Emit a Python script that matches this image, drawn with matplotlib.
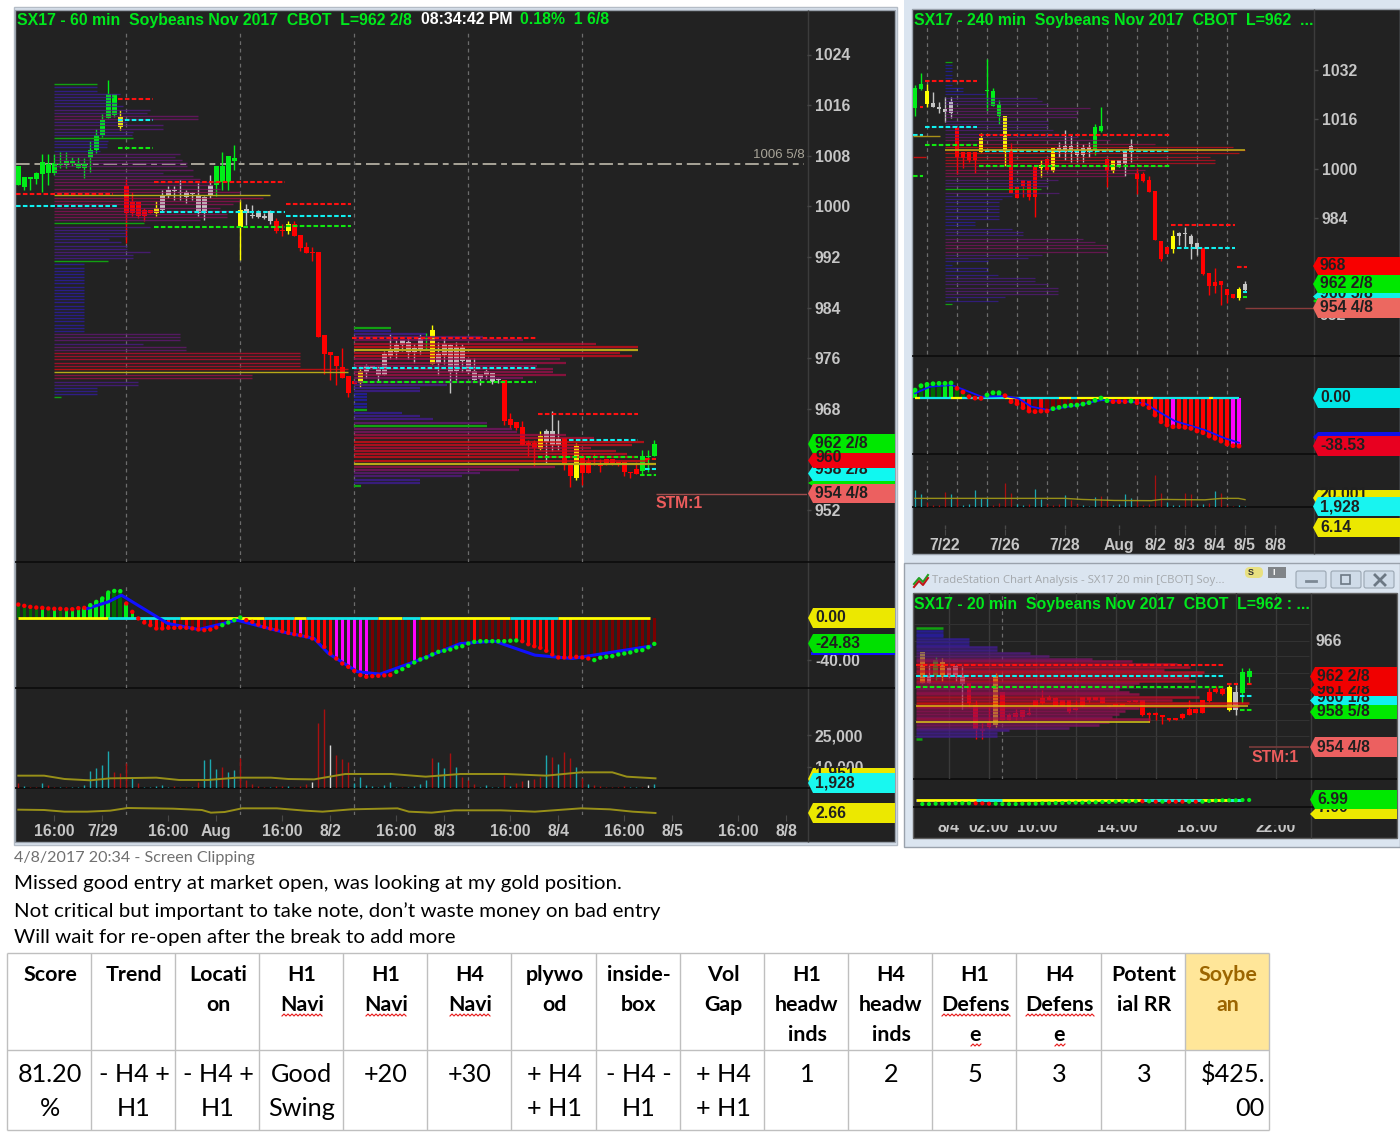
import numpy as np
import matplotlib
matplotlib.use('Agg')
import matplotlib.pyplot as plt
from matplotlib.colors import LinearSegmentedColormap
from matplotlib.patches import Polygon, Rectangle, FancyBboxPatch

W, H = 1400, 1135
COL = {'g': '#00ee18', 'r': '#ff0000', 'y': '#ffff00', 'w': '#c4c4c4', 'c': '#1cb0b4',
       'D': '#006a00', 'd': '#7a0000', 'm': '#ff00ff'}
BG = '#222222'
CHROME = '#dbe5f0'
UI = 'Liberation Sans'
DOC = 'Lato'

# 60 min chart
main_top = [1006.4, 1004.6, 1004.6, 1005.2, 1007, 1006.7, 1006.8, 1006.8, 1007.1, 1007.1, 1006.8, 1006.8, 1008.9,
            1011.3, 1013.7, 1017.7, 1017.7, 1014.1, 1003.2, 1000.7, 1000.7, 999.4, 999.4, 999.7, 1001.8, 1002.6,
            1002.6, 1002.3, 1002.3, 1002.1, 1001.6, 1001.4, 1003.4, 1006.3, 1006.3, 1007.9, 1007.7, 999.4, 999.5,
            998.7, 998.9, 998.4, 999.2, 997.7, 996.3, 997.2, 997.2, 995.5, 993.5, 992.8, 992.7, 979.6, 976.9, 976.4,
            974.6, 973.2, 972.4, 973.9, 974.7, 974.7, 974.2, 976.7, 977.2, 978, 978.8, 978.6, 977.6, 979.2, 979.2,
            980.4, 976.7, 978.2, 978, 977.8, 977.8, 975.9, 974, 973.5, 973.9, 973.6, 972.7, 972.6, 966.4, 965.9,
            965.1, 962.5, 962.5, 963.7, 964.4, 964.4, 963.2, 963.4, 959.3, 962.1, 960.6, 959.6, 959.4, 959.1, 960.1,
            960.1, 959.5, 959.5, 958, 958.4, 960.6, 960.6, 962.4]
main_bot = [1003.4, 1003, 1004.3, 1004.3, 1005.1, 1005.2, 1005.3, 1006.6, 1006.9, 1006.8, 1006.1, 1006.1, 1007.6,
            1008.9, 1011.3, 1013.9, 1014.4, 1012.5, 998.9, 999, 998.5, 998.5, 998.9, 998.9, 999.4, 1001.6, 1002.4,
            1002.1, 1001.4, 1001.9, 999, 999, 1001.6, 1003.4, 1003.8, 1003.8, 1007.2, 996.8, 998.9, 998.5, 998.3,
            998.1, 997.6, 996.1, 996.1, 996.1, 995.3, 993.4, 992.6, 992.6, 979.3, 976.6, 976.5, 974.8, 972.8, 970.5,
            971.9, 972, 973.8, 974.5, 973.4, 973.4, 976.3, 977, 978, 976.9, 976.9, 977.5, 979, 975, 975.2, 976.5,
            973.8, 974, 975.5, 973.8, 972.6, 972.7, 973.4, 972.2, 972.5, 966, 965.5, 965, 962.2, 962.2, 961.8, 961.7,
            962.7, 962.2, 962.2, 959.3, 957.3, 957.1, 957.8, 957.8, 959.1, 958.9, 959.1, 959.3, 959.1, 958, 957.8,
            957.7, 958.2, 960.3, 960.5]
main_high = [1006.4, 1004.6, 1004.6, 1005.5, 1008.2, 1008.2, 1008.2, 1008.6, 1008.6, 1007.8, 1007.8, 1007.6, 1010.3,
             1012.3, 1014.6, 1019.9, 1017.7, 1015.2, 1004.3, 1002.2, 1000.7, 999.7, 999.4, 1000.9, 1002.6, 1003.2,
             1003.2, 1004.2, 1002.6, 1002.3, 1003.7, 1001.6, 1005, 1006.3, 1008.6, 1007.9, 1009.7, 1001, 1000.4,
             1000.2, 999.4, 998.9, 999.4, 998.1, 997.2, 997.6, 997.7, 995.5, 994.4, 993.5, 992.7, 979.6, 976.9,
             976.4, 977.6, 973.2, 972.4, 974.8, 975.1, 974.7, 974.8, 977.2, 979.8, 978.8, 978.8, 979.2, 978.3, 979.8,
             980, 981.2, 978.5, 979.3, 978.3, 978.5, 978.3, 975.9, 976, 973.5, 974.3, 973.6, 972.9, 972.6, 967.3,
             965.9, 966, 963.1, 963, 964.4, 964.8, 967.6, 966.2, 963.4, 959.3, 962.6, 960.9, 960.3, 961, 960, 960.1,
             960.1, 959.5, 959.5, 958, 959.5, 961.4, 961.4, 963.1]
main_low = [1003.4, 1002.6, 1002.5, 1003.6, 1002.3, 1003.4, 1005, 1006, 1006.1, 1006.4, 1006.1, 1004.5, 1005.4, 1008.4,
            1011, 1013.9, 1014.1, 1012, 994.2, 998.4, 998.1, 997.6, 998.9, 998.5, 999.3, 1001.3, 1001, 1001, 1000.5,
            1001, 998.5, 997.9, 1001.3, 1001.6, 1002.6, 1002.6, 1005.8, 991.5, 997.1, 998.1, 998.1, 998, 997.2,
            995.8, 995.3, 995.6, 995.3, 993, 992.6, 991.4, 979.3, 973.5, 972.5, 971.7, 972.8, 969.9, 971.9, 971.4,
            972.9, 974.5, 972.2, 973.4, 975.9, 975.9, 977.2, 975.9, 975.2, 976.7, 977.5, 975, 973.3, 975.1, 970.5,
            972.5, 973.8, 973.5, 972.6, 971.8, 972.7, 971.9, 972, 965.5, 965, 964.6, 962.2, 960.5, 958.9, 961.4,
            959.3, 961.3, 961.4, 958.3, 955.6, 956.7, 956, 957.8, 959.1, 958, 959.1, 959.1, 958.9, 957.3, 957.1,
            957.7, 957.7, 958, 960.5]
main_col = 'g' * 17 + 'y' + 'r' * 5 + 'y' + 'w' * 9 + 'g' * 4 + 'y' + 'w' * 5 + 'rr' + 'y' + 'r' * 11 + 'y' + \
           'w' * 10 + 'g' + 'y' + 'w' * 11 + 'r' * 6 + 'y' + 'w' * 3 + 'rr' + 'y' + 'r' * 10 + 'ggg'

main_prof = [43, 43, 43, 66, 59, 56, 63, 69, 96, 93, 144, 144, 73, 109, 109, 79, 78, 79, 54, 53, 53, 46, 126, 121, 128,
             133, 133, 139, 109, 139, 146, 163, 159, 166, 186, 216, 209, 186, 179, 166, 176, 173, 173, 146, 90, 96,
             73, 72, 73, 55, 67, 73, 73, 96, 79, 79, 54, 30, 30, 30, 30, 30, 30, 30, 30, 30, 30, 30, 30, 30, 30, 30,
             30, 30, 30, 30, 30, 30, 30, 126, 126, 126, 89, 132, 132, 246, 246, 246, 246, 246, 294, 294, 198, 198,
             84, 84, 43, 43, 43, 7]
main_prof2 = [37, 37, 72, 129, 169, 242, 284, 284, 266, 278, 206, 212, 183, 199, 199, 212, 169, 129, 93, 66, 66, 13,
              13, 13, 13, 13, 13, 48, 66, 79, 133, 133, 158, 163, 212, 240, 290, 278, 237, 262, 273, 284, 294, 302,
              201, 165, 126, 108, 66, 66, 7]
main_lv_x0 = [16.6, 16.6, 16.6, -0.4, -0.4, 22.6, 23.6, 22.6, 44.6, 44.6, 44.6, 55.6, 55.6, 57.4, 86.6, 91.7, 86.6,
              104.5, 104.5, 103.6]
main_lv_x1 = [22.4, 22.4, 22.4, 15.8, 16.4, 44.4, 44.4, 44.4, 55.4, 55.4, 55.4, 86.3, 86.3, 86.3, 103.3, 103.3, 103.3,
              106.3, 106.3, 106.3]
main_lv_p = [1016.9, 1013.7, 1009.2, 1002, 1000.1, 1003.8, 999.1, 996.7, 1000.4, 998.4, 996.9, 979.2, 974.5, 972.2,
             967.2, 963, 960.3, 960.1, 958.4, 957.5]
main_lv_c = 'rcgrcrcgrcgrcgrcgrcg'

main_hist = [12.2, 11, 10, 9.4, 9.1, 8.5, 8.2, 8.2, 7.8, 7.8,
             8.8, 9.1, 11.6, 14.7, 17.9, 23.5, 25, 24.8, 13.2, 5.3,
             -.9, -4.7, -7.2, -10.3, -10.3, -9.7, -9.7, -9.4, -9.7, -10.3,
             -11.3, -11.9, -11.3, -9.4, -7.2, -4.7, -2.5, 0, -2.5, -4.1,
             -6.6, -8.8, -10.3, -11.3, -12.9, -14.4, -15.7, -16.6, -17.6, -19.7,
             -22.3, -27.6, -33.9, -38.6, -43.3, -46.4, -50.2, -54.2, -55.8, -55.2,
             -54.9, -54.5, -54.2, -51.1, -48.6, -45.5, -42.3, -39.5, -37.6, -34.8,
             -32.3, -31.3, -30.1, -28.2, -27, -24.5, -22.9, -22.3, -22.3, -22.3,
             -22.3, -22.3, -21.9, -21.6, -22.3, -25.1, -27, -28.5, -31.3, -34.8,
             -37.6, -37.6, -37.3, -37, -37.6, -38.6, -40.1, -37.9, -37, -36.4,
             -34.8, -33.9, -32.9, -31.3, -30.7, -28, -24.8]
main_hist_col = 'DDDDgDgDgg' + 'ggggggDDgg' + 'rrrrrrrdrd' + 'rddddrrrrr' + 'rrrrrrrmrr' + 'rrrmmmmmmd' + \
                'ddddddmddd' + 'ddddddrddd' + 'dddrrrrrrr' + 'drrddddddd' + 'ddddddd'
main_dot_col = 'r' * 12 + 'g' * 6 + 'r' * 16 + 'g' * 4 + 'r' * 25 + 'g' * 21 + 'r' * 12 + 'g' * 11
main_sig_x = [11.5, 15, 17.2, 24.9, 30.1, 36.4, 44, 49.3, 51.7, 56.5, 60.3, 66, 73.7, 79.4, 86.1, 92.3, 105.3]
main_sig = [8.5, 14.7, 21, -5.6, -11.3, -2.5, -13.5, -19.7, -33.9, -51, -53.3, -41.7, -24.5, -22.3, -35.4, -38.6, -27]
main_zero_edges = [0, 15, 27, 41, 46, 48, 60, 64, 67, 82, 90, 105.3]
main_zero_col = 'ycycycycycy'

main_vol = [2200, 950, 630, 630, 2200, 1260, 630, 630, 630, 630,
            630, 1400, 8200, 9300, 11000, 17500, 7700, 7000, 12000, 5000,
            2200, 630, 300, 950, 1260, 630, 950, 630, 630, 630,
            3000, 13300, 13700, 9000, 9800, 7400, 8500, 14000, 3800, 1900,
            950, 630, 630, 950, 950, 950, 630, 950, 1900, 3000,
            31000, 37600, 20400, 15600, 13700, 12500, 2200, 5200, 1400, 950,
            300, 1400, 2700, 630, 630, 630, 950, 1900, 3800, 14000,
            12500, 9600, 16400, 10100, 5400, 3800, 1900, 630, 1400, 630,
            630, 6200, 950, 2200, 3200, 3800, 4300, 5400, 15600, 14900,
            11400, 16900, 14000, 9800, 4600, 1900, 1400, 950, 630, 630,
            630, 950, 630, 630, 630, 1600, 1900]
main_vol_col = 'rcrrcrrcrc' + 'ccccccrrrc' + 'rcccccrrrc' + 'rcccrccrrr' + 'rrcrrcrrrw' + 'rrwrrrcccc' + \
               'ccccrccccr' + 'ccrcrrrccc' + 'crcrrwrrcr' + 'crrcrcrrrr' + 'rrccrwc'
main_ma_x = [0, 4.3, 7.7, 12, 15.3, 23, 26.8, 31.6, 36.4, 42.1, 45, 49.3, 54.5, 62.2, 67.9, 73.7, 81.3, 88, 93.8, 99,
             101.4, 106.2]
main_ma = [5850, 5850, 4270, 3630, 4580, 4900, 3800, 3800, 4900, 4900, 4270, 4100, 6640, 6640, 5370, 6640, 6640, 5850,
           7430, 7430, 5370, 4580]
main_ratio_x = [0, 4.3, 7.7, 11.5, 15.3, 18.2, 25.8, 30.6, 32.1, 34.4, 37.3, 43.1, 47.8, 50.7, 55.5, 63.2, 65.1, 68.9,
                72.7, 80.4, 86.1, 93.8, 98.6, 102.4, 106.2]
main_ratio = [3.16, 3.11, 2.86, 2.86, 3.01, 3.41, 3.31, 3.11, 2.71, 2.81, 3.36, 3.36, 3.01, 2.86, 3.21, 3.36, 2.86,
              2.71, 3.06, 3.06, 2.86, 3.36, 3.21, 2.86, 2.66]
main_days = [18, 37, 56, 75, 94]
main_xticks = [6, 14, 25, 33, 44, 52, 63, 71, 82, 90, 101, 109, 120, 128]
main_xlabels = ['16:00', '7/29', '16:00', 'Aug', '16:00', '8/2', '16:00', '8/3', '16:00', '8/4', '16:00', '8/5', '16:00',
                '8/8']
main_prices = [952, 968, 976, 984, 992, 1000, 1008, 1016, 1024]

# 240 min chart
h4_top = [1026.1, 1027.6, 1025.3, 1021.2, 1020.1, 1019.5, 1021.7, 1013.6, 1005.4, 1005.4, 1005.4, 1009.8, 1025.5,
          1025.3, 1021, 1017, 1005.8, 994.2, 996.3, 996, 1000.6, 1001.2, 1003, 1006.6, 1006.6, 1007.4, 1007.4, 1006.1,
          1006.6, 1007, 1013.6, 1013.9, 1003, 1002.7, 1002.7, 1006.1, 1007.4, 998.6, 998.2, 996.2, 992.7, 976.5, 974.6,
          978.2, 979.2, 979.2, 978.2, 976, 974.2, 966.1, 963.2, 963.6, 960.9, 959.5, 960.9, 962.6]
h4_bot = [1019.6, 1025.7, 1021, 1020.1, 1019.2, 1018.4, 1017.9, 1003.9, 1003.6, 1002.8, 1002.8, 1005.5, 1025.2, 1020.4,
          1017.2, 1005.4, 992.2, 990.6, 994.4, 990.9, 990.9, 1000.1, 999.6, 999.2, 1005.5, 1005.5, 1005.5, 1004.4,
          1004.4, 1005.5, 1006.1, 1012.3, 999.4, 999.2, 1001, 1001.4, 1005.5, 996.8, 996, 992.5, 976.9, 970.7, 972.4,
          973.9, 978.2, 978.7, 975.7, 973.8, 965.7, 962.1, 962.1, 962.3, 959, 958.2, 957.9, 960.6]
h4_high = [1027.1, 1031.1, 1027.4, 1025, 1021.7, 1023.4, 1023.4, 1013.6, 1005.4, 1005.4, 1005.4, 1011.5, 1035.6, 1026.1,
           1022.3, 1017, 1008.2, 994.2, 996.3, 996, 1000.6, 1002.8, 1003, 1006.6, 1008.8, 1012.5, 1010.9, 1008.8, 1008,
           1008.8, 1014.5, 1019.9, 1003, 1002.7, 1002.7, 1006.3, 1009.5, 1000.1, 999, 997.7, 992.7, 976.5, 974.6, 980.1,
           979.6, 981.2, 978.7, 976.3, 974.2, 966.1, 967.7, 963.6, 960.9, 959.5, 961.7, 963.4]
h4_low = [1017.2, 1025.5, 1020.1, 1019.9, 1017.9, 1015.2, 1016.5, 998.2, 1000.3, 1002.3, 998.7, 1005.5, 1018.8, 1020.4,
          1014.5, 1000.9, 992.2, 990.4, 990.9, 989.8, 984.4, 997.2, 999.4, 999, 1003.9, 1002.8, 1002.3, 1002.1, 1002.1,
          1003.9, 1004.4, 1011.8, 994.2, 998.5, 1000.6, 997.7, 1002.3, 991.7, 995.8, 992.5, 976.9, 970.2, 972.2, 972.5,
          975.2, 974.2, 970.7, 972, 965.5, 959, 959.6, 955.8, 956.3, 957.9, 957.4, 960.4]
h4_col = 'ggywwww' + 'rrrr' + 'y' + 'ggg' + 'y' + 'rrrrr' + 'y' + 'r' + 'y' + 'wwwwww' + 'gg' + 'r' + 'y' + 'www' + \
         'rrrrrr' + 'y' + 'wwww' + 'rrrrrr' + 'y' + 'w'
h4_prof = [7, 7, 7, 7, 7, 7, 7, 7, 18, 18, 40, 92, 97, 103, 145, 133, 133, 132, 103, 103, 103, 108, 113, 133, 165, 210,
           288, 300, 294, 265, 270, 270, 220, 200, 193, 180, 113, 103, 103, 96, 114, 67, 57, 54, 54, 54, 54, 54, 54,
           30, 30, 67, 78, 78, 138, 150, 162, 162, 162, 97, 83, 43, 7, 43, 43, 53, 90, 90, 103, 113, 113, 113, 60, 53,
           7]
h4_lv_x0 = [1.7, 1.7, 1.7, 10.7, 11.7, 10.7, 42.7, 43.6, 53.7, 54.6, 54.6, -.3, -.3, .8]
h4_lv_x1 = [10.4, 10.4, 10.4, 42.5, 42.5, 42.5, 53.4, 53.4, 55.4, 55.4, 55.4, 1.4, 1.4, 1.4]
h4_lv_p = [1028.4, 1013.5, 1007.6, 1011, 1005.8, 1001, 981.8, 974.2, 968.2, 960.1, 958.3, 1010.9, 997.6, 1020.1]
h4_lv_c = 'rcgrcgrcrcgcgr'
h4_hist = [6.1, 9.6, 10.7, 11.2, 11.5, 11.5, 11.8, 7.5, 4.5, .8, -.3, -.5, 2.1, 4, 4, 1.6, -3.2, -4.8, -8, -10.7, -11.2,
           -10.7, -10.7, -8.8, -7.8, -6.7, -6.1, -5.9, -5.1, -4, -2.1, -.3, -2.4, -3.2, -3.2, -3.2, -2.7, -4, -5.3, -8,
           -13.9, -19.3, -21.9, -23.3, -23.3, -23.8, -24.6, -26.7, -28.1, -30.7, -32.6, -34.8, -37.2, -38.5, -38.8]
h4_hist_col = 'gDgDDgg' + 'DDrrr' + 'gDg' + 'rrrrrdrd' + 'ddddddddd' + 'ddddd' + 'rrrrrr' + 'm' + 'rrrrrrrrr' + 'mm'
h4_dot_col = 'g' * 7 + 'r' * 5 + 'g' * 3 + 'r' * 8 + 'g' * 10 + 'r' * 3 + 'g' + 'r' * 18
h4_sig_x = [0, 2.5, 6.1, 8.3, 11.1, 15, 17.2, 19.4, 22.2, 27.2, 31.1, 34.4, 38.3, 40.6, 43.3, 48.3, 51.7, 54]
h4_sig = [3.5, 8.8, 10.2, 6.1, .8, 1.3, -.5, -7.2, -9.9, -5.9, -1.9, -2.7, -4.5, -11.2, -18.7, -25.9, -32.6, -36.1]
h4_zero_edges = [0, .8, 6, 7.8, 15, 17, 24, 26, 27, 39.7, 49, 49.7, 54]
h4_zero_col = 'ycycycycycyc'
h4_vol = [8000, 5900, 2400, 800, 800, 6900, 6100, 4000, 800, 1100, 8000, 4000, 4300, 800, 1900, 11200, 6400, 1100, 800,
          1100, 8500, 3700, 1100, 800, 1100, 5600, 3200, 1100, 800, 500, 4800, 5300, 3200, 800, 1100, 6100, 4000, 3200,
          800, 1100, 15200, 6600, 2100, 800, 800, 6400, 5900, 800, 1100, 1900, 7500, 6700, 800, 500, 800, 500]
h4_vol_col = 'ccrrrrcrcc' + 'cccrrrrccr' + 'ccrrrcrrcc' + 'crrccccrrr' + 'rrccc' + 'rrccrcrrrcc'
h4_ma_x = [0, 25, 27.8, 33.2, 39.4, 41.1, 48.3, 51.1, 53.9, 55]
h4_ma = [4000, 4000, 3500, 3000, 2900, 3500, 3300, 4000, 4000, 3400]
h4_days = [2, 7, 12, 17, 22, 27, 32, 37, 42, 47, 52]
h4_xticks = [5, 15, 25, 34, 40, 45, 50, 55, 60]
h4_xlabels = ['7/22', '7/26', '7/28', 'Aug', '8/2', '8/3', '8/4', '8/5', '8/8']
h4_prices = [984, 1000, 1016, 1032]

# 20 min chart
m20_top = [964.9, 962.3, 964, 963.8, 963.1, 963.3, 962.3, 961.4, 959, 956.4, 957.1, 962.3, 960.5, 957.9, 958.1, 958.5,
           958.1, 959.6, 959.8, 959.9, 959.8, 959.6, 959.6, 958.6, 959.9, 959.9, 959.9, 959.9, 959, 959.1, 959, 959.5,
           959.5, 959.6, 958.1, 958.1, 957.9, 957.6, 957.6, 958, 958.6, 958.6, 959.6, 960.4, 960.8, 960.8, 961, 960.5,
           962.7, 962.8]
m20_bot = [961.5, 961.5, 962.3, 962.1, 962.1, 962.1, 961.3, 959.2, 956.4, 956.1, 956.6, 956.8, 957.4, 957.4, 957.7,
           957.7, 957.9, 958.9, 959.2, 959.6, 958.9, 958.9, 958.2, 958.5, 958.9, 959.6, 959.6, 959.2, 958.8, 958.9,
           958.9, 959.3, 959.4, 957.9, 957.9, 957.9, 957.7, 957.4, 957.4, 957.6, 957.9, 958.1, 958.1, 959.5, 960.4,
           960.2, 958.5, 958.5, 960.3, 962.1]
m20_high = [964.9, 963.4, 964.3, 964.2, 963.2, 963.4, 963.3, 961.4, 959.6, 957, 958.8, 962.5, 960.5, 958.1, 958.6,
            958.5, 958.8, 959.6, 960.7, 960.1, 959.9, 959.6, 959.6, 959.6, 959.9, 959.9, 959.9, 959.9, 959, 959.1, 959,
            959.5, 959.5, 959.6, 958.2, 958.3, 957.9, 957.6, 957.6, 958.1, 959.6, 958.6, 959.6, 960.9, 961.1, 961.1,
            961.2, 961.2, 963.1, 963.1]
m20_low = [961.5, 961.4, 961.8, 961.7, 962, 961.7, 958.6, 958.8, 955.3, 955.3, 956.4, 956.6, 957.4, 957.4, 957.4, 957.5,
           957.9, 958.9, 959.1, 959.6, 958.9, 958.9, 958.1, 958.5, 958.8, 959.4, 959.6, 959.2, 958.8, 958.9, 958.9,
           959.3, 959.4, 957.8, 957.2, 957.4, 956.9, 957.3, 957.4, 957.5, 957.9, 958.1, 958.1, 959.4, 960.3, 960.1,
           958.4, 957.9, 959.2, 961.4]
m20_col = 'ywgywwwrrrryr' + 'r' * 33 + 'ywgg'
m20_prof = [27, 27, 27, 27, 53, 53, 53, 81, 81, 114, 133, 176, 216, 261, 274, 248, 288, 286, 273, 279, 223, 218, 203,
            213, 223, 283, 256, 333, 323, 223, 209, 203, 196, 234, 193, 183, 153, 93, 81, 81, 6]
m20_lv_x0 = [-1, -1, -1, 45.7, 48.7, 47.7, 47.7]
m20_lv_x1 = [45.4, 45.4, 45.4, 47.4, 49.4, 49.4, 49.4]
m20_lv_p = [963.4, 962.2, 961, 961.3, 961.3, 960, 958.5]
m20_lv_c = 'rcgrrcg'
m20_osc = [.99, .99, 1.49, 1.49, 1.49, 1.99, 1.99, 1.99, 1.99, 1.99, 1.49, 1.49, .99, .99, .99, 1.49, 1.49, 1.49, 1.99,
           1.99, 2.49, 2.49, 2.99, 2.99, 2.99, 3.49, 3.49, 3.99, 3.99, 4.49, 4.49, 4.99, 4.99, 4.99, 4.99, 4.49, 4.49,
           4.49, 4.49, 4.49, 4.49, 4.49, 4.49, 5.49, 5.99, 6.49, 6.49, 6.49, 6.99, 6.99]
m20_osc_col = 'g' * 8 + 'rrr' + 'g' * 22 + 'rgrgrrrgr' + 'g' * 8
m20_grid = [4, 10, 17, 23, 29, 35, 41, 47, 53]
m20_xticks = [4, 10, 17.2, 29.2, 41.2, 53]
m20_xlabels = ['8/4', '02:00', '10:00', '14:00', '18:00', '22:00']

# note and table
note_lines = ['Missed good entry at market open, was looking at my gold position.',
              'Not critical but important to take note, don\u2019t waste money on bad entry',
              'Will wait for re-open after the break to add more']
table_edges = [7, 91, 175, 259, 343, 427, 511, 596, 680, 764, 848, 932, 1016, 1101, 1185, 1269]
table_head = [['Score'], ['Trend'], ['Locati', 'on'], ['H1', 'Navi'], ['H1', 'Navi'], ['H4', 'Navi'], ['plywo', 'od'],
              ['inside-', 'box'], ['Vol', 'Gap'], ['H1', 'headw', 'inds'], ['H4', 'headw', 'inds'],
              ['H1', 'Defens', 'e'], ['H4', 'Defens', 'e'], ['Potent', 'ial RR'], ['Soybe', 'an']]
table_body = [['81.20', '%'], ['- H4 +', 'H1'], ['- H4 +', 'H1'], ['Good', 'Swing'], ['+20'], ['+30'], ['+ H4', '+ H1'],
              ['- H4 -', 'H1'], ['+ H4', '+ H1'], ['1'], ['2'], ['5'], ['3'], ['3'], ['$425.', '00']]

plt.rcParams['font.family'] = [UI, 'DejaVu Sans']
fig = plt.figure(figsize=(W / 100, H / 100), dpi=100, facecolor='white')
prof_cmap = LinearSegmentedColormap.from_list('prof', ['#1c1cb4', '#3c1c98', '#5c1a78', '#8c1058', '#b80c30', '#e00c10'])


def pixel_axes(z):
    ax = fig.add_axes([0, 0, 1, 1], zorder=z)
    ax.set_xlim(0, W)
    ax.set_ylim(H, 0)
    ax.axis('off')
    ax.patch.set_alpha(0)
    return ax


def pane(x0, x1, y0, y1, bar0, dx, y_ref, v_ref, px_per_unit):
    ax = fig.add_axes([x0 / W, 1 - y1 / H, (x1 - x0) / W, (y1 - y0) / H], zorder=2)
    ax.set_xlim((x0 - bar0) / dx, (x1 - bar0) / dx)
    ax.set_ylim(v_ref - (y1 - y_ref) / px_per_unit, v_ref + (y_ref - y0) / px_per_unit)
    ax.patch.set_alpha(0)
    for s in ax.spines.values():
        s.set_visible(False)
    ax.set_xticks([])
    ax.set_yticks([])
    return ax


def right_ticks(ax, vals, labels):
    ax.yaxis.tick_right()
    ax.set_yticks(vals)
    ax.set_yticklabels(labels, fontsize=11.3, fontweight='bold', color='#c6c6c6')
    ax.tick_params(axis='y', length=3, color='#484848', width=1, pad=2.7)


def candles(ax, top, bot, high, low, cols, width, lw=1):
    x = np.arange(len(top))
    top, bot = np.array(top), np.array(bot)
    for c in set(cols):
        m = np.array([k == c for k in cols])
        ax.vlines(x[m], np.array(low)[m], np.array(high)[m], color=COL[c], lw=lw, zorder=3)
        ax.bar(x[m], np.maximum(top[m] - bot[m], 0.18), bottom=bot[m], width=width, color=COL[c], linewidth=0, zorder=3)


def profile(ax, start, bar_px, prices, widths, green, yellow, lw, alpha=0.72):
    widths = np.array(widths, float)
    for k, (p, w) in enumerate(zip(prices, widths)):
        c = prof_cmap(w / widths.max())
        a = alpha
        if k in green:
            c, a = '#12a012', 1
        if k in yellow:
            c, a = '#b8a818', 1
        ax.hlines(p, start, start + w / bar_px, color=c, alpha=a, lw=lw, zorder=4)


def levels(ax, x0, x1, prices, cols, lw=1.5):
    for a, b, p, c in zip(x0, x1, prices, cols):
        ax.hlines(p, a, b, color={'r': '#ff1010', 'c': '#10f0f0', 'g': '#10e810'}[c], lw=lw, linestyles=(0, (2.2, 1.1)),
                  zorder=5)


def histogram(ax, vals, cols, dot_cols, bright=0.6, dark=0.6, s=10):
    x = np.arange(len(vals))
    vals = np.array(vals)
    for c in set(cols):
        m = np.array([k == c for k in cols])
        ax.bar(x[m], vals[m], width=dark if c in 'Dd' else bright, color=COL[c], linewidth=0, zorder=2)
    dc = [COL[k] for k in dot_cols]
    ax.scatter(x, vals, s=s, c=dc, linewidths=0, zorder=5)


def zero_line(ax, edges, cols, lw=2):
    for a, b, c in zip(edges[:-1], edges[1:], cols):
        ax.hlines(0, a, b, color={'y': '#ffff00', 'c': '#10e8e8'}[c], lw=lw, zorder=3)


def volume(ax, vols, cols, lw=1):
    x = np.arange(len(vols))
    ax.vlines(x, 0, vols, color=[{'r': '#a81010', 'c': '#1ca8b0', 'w': '#d8d8d8'}[k] for k in cols], lw=lw, zorder=2)


def day_lines(ax, days, lo, hi):
    ax.vlines(days, lo, hi, color='#6c6c6c', lw=0.9, linestyles=(0, (3, 3)), zorder=1)


def tag(ax, x0, x1, y0, y1, color, text, z, text_y=None, size=11.3):
    mid = (y0 + y1) / 2
    ax.add_patch(Polygon([(x0, mid), (x0 + 5, y0), (x1, y0), (x1, y1), (x0 + 5, y1)], closed=True, fc=color, ec='none',
                         zorder=z))
    if text:
        ax.text(x0 + 7, mid if text_y is None else text_y, text, color='#202020', fontsize=size, fontweight='bold',
                va='center', ha='left', zorder=z + 0.1)


bg = pixel_axes(0)
top = pixel_axes(6)

# window chrome and dark panels
bg.add_patch(Rectangle((904, 0), 496, 847, fc=CHROME, ec='none'))
bg.add_patch(Rectangle((14, 7), 883, 838, fc=CHROME, ec='#b4bcc6', lw=1))
bg.add_patch(Rectangle((15, 10), 880, 832, fc=BG, ec='#9aa2ac', lw=1))
bg.add_patch(Rectangle((912, 9), 488, 545, fc=BG, ec='#9aa2ac', lw=1))
bg.add_patch(Rectangle((904, 563), 496, 284, fc=CHROME, ec='#9aa2ac', lw=1))
bg.add_patch(Rectangle((913, 593), 484, 245, fc=BG, ec='#606060', lw=1))
bg.vlines([807.5], 10, 842, color='#3c3c3c', lw=1)
bg.vlines([1314], 9, 554, color='#3c3c3c', lw=1)
bg.vlines([1310.5], 593, 838, color='#3c3c3c', lw=1)
bg.hlines([562, 688, 788], 15, 895, color='#0c0c0c', lw=1.2)
bg.hlines([356, 454, 507], 912, 1400, color='#0c0c0c', lw=1.2)
bg.hlines([779, 806.5], 913, 1397, color='#0c0c0c', lw=1.2)

# --- 60 min ---
main_x = (16, 807, 18.3, 6)
ax = pane(main_x[0], main_x[1], 10, 562, main_x[2], main_x[3], 54.5, 1024, 6.325)
candles(ax, main_top, main_bot, main_high, main_low, main_col, 0.78)
profile(ax, 5.95, 6, np.linspace(1019.3, 969.8, len(main_prof)), main_prof, [0, 17, 44, 56, 99], [35, 91], 1.0, 0.78)
profile(ax, 55.95, 6, np.linspace(980.8, 955.8, len(main_prof2)), main_prof2, [0, 26, 31, 50], [7, 43], 1.6, 0.78)
levels(ax, main_lv_x0, main_lv_x1, main_lv_p, main_lv_c)
day_lines(ax, main_days, 943.8, 1027.5)
ax.hlines(1006.625, -0.4, 131, color='#a8a498', lw=1.4, linestyles=(0, (7, 2.5, 3, 2.5)), zorder=1)
ax.hlines(954.5, 106.3, 132, color='#a04c4c', lw=1, zorder=2)
right_ticks(ax, main_prices, [str(p) for p in main_prices])

ax = pane(main_x[0], main_x[1], 562, 688, main_x[2], main_x[3], 617.5, 0, 1.0625)
histogram(ax, main_hist, main_hist_col, main_dot_col)
day_lines(ax, main_days, -66, 30)
zero_line(ax, main_zero_edges, main_zero_col)
ax.plot(main_sig_x, main_sig, color='#1010ff', lw=2.2, zorder=4)
right_ticks(ax, [-40], ['-40.00'])

ax = pane(main_x[0], main_x[1], 688, 788, main_x[2], main_x[3], 788, 0, 1 / 474)
volume(ax, main_vol, main_vol_col)
day_lines(ax, main_days, 0, 38000)
ax.plot(main_ma_x, main_ma, color='#989018', lw=1.4, zorder=3)
right_ticks(ax, [10000, 25000], ['10,000', '25,000'])

ax = pane(main_x[0], main_x[1], 788, 815, main_x[2], main_x[3], 813, 2.66, 1 / 0.15)
ax.plot(main_ratio_x, main_ratio, color='#989018', lw=1.4, zorder=3)
day_lines(ax, main_days, 2.4, 6.3)
ax.set_xticks(main_xticks)
ax.set_xticklabels(main_xlabels, fontsize=11.3, fontweight='bold', color='#c6c6c6')
ax.tick_params(axis='x', length=4, color='#484848', pad=2.5)

# --- 240 min ---
h4_x = (913, 1314, 915, 6)
ax = pane(h4_x[0], h4_x[1], 9, 356, h4_x[2], h4_x[3], 70, 1032, 3.083)
candles(ax, h4_top, h4_bot, h4_high, h4_low, h4_col, 0.78)
profile(ax, 5, 6, np.linspace(1034.7, 956.1, len(h4_prof)), h4_prof, [0, 39, 74], [], 0.9)
levels(ax, h4_lv_x0, h4_lv_x1, h4_lv_p, h4_lv_c)
day_lines(ax, h4_days, 940, 1048)
ax.hlines(1006.1, 5, 55, color='#b8a818', lw=1.2, zorder=5)
ax.hlines(1010.6, -.3, 4.1, color='#a89018', lw=1, zorder=5)
ax.hlines(1003.7, -.3, 1.8, color='#c01010', lw=1, zorder=5)
ax.hlines(954.7, 55, 66.4, color='#8a3c3c', lw=1, zorder=2)
right_ticks(ax, h4_prices, [str(p) for p in h4_prices])

ax = pane(h4_x[0], h4_x[1], 356, 454, h4_x[2], h4_x[3], 397.7, 0, 1.247)
histogram(ax, h4_hist, h4_hist_col, h4_dot_col, bright=0.62, dark=0.62, s=12)
day_lines(ax, h4_days, -45, 26)
zero_line(ax, h4_zero_edges, h4_zero_col, lw=1.6)
ax.plot(h4_sig_x, h4_sig, color='#1010ff', lw=1.3, zorder=4)

ax = pane(h4_x[0], h4_x[1], 454, 507, h4_x[2], h4_x[3], 506.7, 0, 1 / 480)
volume(ax, h4_vol, h4_vol_col, lw=0.9)
day_lines(ax, h4_days, 0, 22000)
ax.plot(h4_ma_x, h4_ma, color='#989018', lw=1, zorder=3)

ax = pane(h4_x[0], h4_x[1], 507, 529, h4_x[2], h4_x[3], 529, 0, 1)
ax.set_xticks(h4_xticks)
ax.set_xticklabels(h4_xlabels, fontsize=11.3, fontweight='bold', color='#c6c6c6')
ax.tick_params(axis='x', length=4, color='#484848', pad=2.5)
for x in h4_xticks:
    ax.vlines(x, 0, 4, color='#484848', lw=1)

# --- 20 min ---
m20_x = (914, 1310.5, 922.3, 6.67)
ax = pane(m20_x[0], m20_x[1], 593, 779, m20_x[2], m20_x[3], 641.7, 966, 9.07)
ax.vlines(m20_grid, 945, 972, color='#3a3a3a', lw=1, zorder=1)
ax.hlines([955.6, 957.4, 959.1, 960.9, 962.6, 964.4, 966.1, 967.9], -1.5, 58, color='#323232', lw=0.8, zorder=1)
candles(ax, m20_top, m20_bot, m20_high, m20_low, m20_col, 0.72)
profile(ax, -1, 6.67, np.linspace(967.5, 955.3, len(m20_prof)), m20_prof, [0, 40], [], 1.8, 0.82)
levels(ax, m20_lv_x0, m20_lv_x1, m20_lv_p, m20_lv_c)
ax.hlines(958.9, -1, 48.9, color='#d8b818', lw=1.1, zorder=5)
ax.hlines(957.2, -1, 34.2, color='#d8c818', lw=1.1, zorder=5)
ax.hlines(954.4, 49, 58, color='#7a3c3c', lw=1.2, zorder=2)
ax.vlines(12, 950, 972, color='#6c6c6c', lw=0.9, linestyles=(0, (3, 3)), zorder=1)

ax = pane(m20_x[0], m20_x[1], 779, 807, m20_x[2], m20_x[3], 800, 7, 2 / 3)
ax.hlines(7, -1, 48, color='#ffff00', lw=2, zorder=2)
ax.hlines(7, 8, 12, color='#10e8e8', lw=2, zorder=2)
ax.hlines(7, 33, 42, color='#10e8e8', lw=2, zorder=2)
ax.hlines(7, 46, 48, color='#10e8e8', lw=2, zorder=2)
ax.hlines(6, -1, 8, color='#1010ff', lw=1.5, zorder=1)
ax.scatter(range(len(m20_osc)), m20_osc, s=9, c=[COL[k] for k in m20_osc_col], linewidths=0, zorder=3)

lab = pane(m20_x[0], m20_x[1], 825, 833, m20_x[2], m20_x[3], 833, 0, 1)
for x, s in zip(m20_xticks, m20_xlabels):
    lab.text(x, 1, s, fontsize=11.3, fontweight='bold', color='#c6c6c6', ha='center', va='baseline', clip_on=True)

# --- titles ---
ttl = dict(fontsize=11.45, fontweight='bold', color='#00e81c', va='center', zorder=8)
top.text(17, 20, 'SX17 - 60 min  Soybeans Nov 2017  CBOT  L=962 2/8', **ttl)
top.text(421, 20, '08:34:42 PM', **{**ttl, 'color': 'white'})
top.text(520, 20, '0.18%  1 6/8', **ttl)
top.text(914, 20, 'SX17 - 240 min  Soybeans Nov 2017  CBOT  L=962  ...', **ttl)
top.text(914, 604, 'SX17 - 20 min  Soybeans Nov 2017  CBOT  L=962 : ...', **ttl)
top.text(753, 155, '1006 5/8', fontsize=9.5, color='#a8a498', va='center', zorder=8)
top.text(656, 503.5, 'STM:1', fontsize=11.3, fontweight='bold', color='#ec5c5c', va='center', zorder=8)
top.text(1251, 757.5, 'STM:1', fontsize=11.3, fontweight='bold', color='#ec5c5c', va='center', zorder=8)
top.text(1316, 642, '966', fontsize=11.3, fontweight='bold', color='#c6c6c6', va='center', zorder=8)
top.text(1320, 316, '952', fontsize=11.3, fontweight='bold', color='#c6c6c6', va='center', zorder=8)

# title bar of the bottom window
top.text(932, 581, 'TradeStation Chart Analysis - SX17 20 min [CBOT] Soy...', fontsize=8.2, color='#a4a8ac', va='center',
         family=['Open Sans', 'DejaVu Sans'])
top.plot([914, 919, 923, 928], [584, 578, 582, 575], color='#20a020', lw=1.5)
top.plot([914, 919, 923, 928], [587, 581, 585, 578], color='#c01818', lw=1.5)
for bx in (1296, 1331, 1364):
    top.add_patch(FancyBboxPatch((bx, 571), 30, 17, boxstyle='round,pad=0,rounding_size=2', fc='#cfdbe8', ec='#9aa6b2', lw=0.8))
top.plot([1306, 1316], [581, 581], color='#7c8894', lw=2)
top.add_patch(Rectangle((1341, 575), 9, 9, fc='none', ec='#6c7884', lw=1.2))
top.plot([1375, 1385], [575, 585], color='#6c7884', lw=2)
top.plot([1375, 1385], [585, 575], color='#6c7884', lw=2)
top.add_patch(FancyBboxPatch((1245, 567), 18, 11, boxstyle='round,pad=0,rounding_size=5', fc='#e8e080', ec='none'))
top.text(1251, 572.5, 'S', fontsize=6.5, fontweight='bold', color='#303030', ha='center', va='center')
top.add_patch(Rectangle((1268, 567), 18, 11, fc='#808488', ec='none'))
top.text(1274, 572.5, 'I', fontsize=6.5, fontweight='bold', color='white', ha='center', va='center')

# --- price tags ---
tx0, tx1 = 808, 895
tag(top, tx0, tx1, 434, 454, '#00e800', '962 2/8', 10)
tag(top, tx0, tx1, 480, 486, '#00e800', '', 10.6)
tag(top, tx0, tx1, 466, 481, '#10f8f0', '958 2/8', 11, text_y=469)
tag(top, tx0, tx1, 453, 468, '#f00010', '960', 12, text_y=458)
tag(top, tx0, tx1, 484, 503, '#ec6060', '954 4/8', 13)
tag(top, tx0, tx1, 608, 628, '#ece800', '0.00', 10)
top.add_patch(Rectangle((tx0 + 3, 652), tx1 - tx0 - 3, 3, fc='#1010ff', ec='none', zorder=10))
tag(top, tx0, tx1, 634, 653, '#00e000', '-24.83', 11)
tag(top, tx0, tx1, 768, 790, '#ece800', '1,951', 10, text_y=773)
tag(top, tx0, tx1, 773, 793, '#18f8f0', '1,928', 11)
tag(top, tx0, tx1, 803, 823, '#ece800', '2.66', 10)

hx0, hx1 = 1313, 1400
tag(top, hx0, hx1, 292, 301, '#10f0e8', '960 5/8', 9, text_y=293)
tag(top, hx0, hx1, 298, 304, '#00e800', '', 9.6)
tag(top, hx0, hx1, 275, 293, '#00e800', '962 2/8', 10)
tag(top, hx0, hx1, 257, 275, '#f80000', '968', 11)
tag(top, hx0, hx1, 298, 318, '#ec6860', '954 4/8', 12)
tag(top, hx0, hx1, 388, 408, '#00e8e8', '0.00', 10)
tag(top, hx0, hx1, 432, 442, '#1010e8', '', 11)
tag(top, hx0, hx1, 436, 456, '#e80020', '-38.53', 12)
tag(top, hx0, hx1, 490, 506, '#ece800', '20,001', 10, text_y=494)
tag(top, hx0, hx1, 497, 516, '#18f4f0', '1,928', 11)
tag(top, hx0, hx1, 518, 537, '#ece800', '6.14', 12)

qx0, qx1 = 1310, 1397
tag(top, qx0, qx1, 695, 706, '#10f0f0', '960 1/8', 9, text_y=697)
tag(top, qx0, qx1, 684, 696, '#f00000', '961 2/8', 9.5, text_y=689)
tag(top, qx0, qx1, 667, 686, '#f00000', '962 2/8', 10)
tag(top, qx0, qx1, 705, 719, '#00e800', '958 5/8', 11)
tag(top, qx0, qx1, 737, 757, '#ec6060', '954 4/8', 12)
tag(top, qx0, qx1, 809, 819, '#ece800', '7.00', 10, text_y=808)
tag(top, qx0, qx1, 790, 809, '#00e800', '6.99', 11)

# --- note ---
top.text(14, 858, '4/8/2017 20:34 - Screen Clipping', fontsize=11.6, color='#707070', va='center', family=[DOC, 'DejaVu Sans'])
for y, s in zip([884, 911, 937], note_lines):
    top.text(14, y, s, fontsize=14.75, color='#000000', va='center', family=[DOC, 'DejaVu Sans'])

# --- table ---
bg.add_patch(Rectangle((table_edges[-2], 953), table_edges[-1] - table_edges[-2], 97, fc='#ffe699', ec='none'))
bg.vlines(table_edges, 953, 1130, color='#bfbfbf', lw=1)
bg.hlines([953, 1050, 1130], table_edges[0], table_edges[-1], color='#bfbfbf', lw=1)
for k, head in enumerate(table_head):
    cx = (table_edges[k] + table_edges[k + 1]) / 2 + 1
    col = '#9c6500' if k == len(table_head) - 1 else '#000000'
    for y, s in zip([975, 1005, 1035], head):
        bg.text(cx, y, s, fontsize=15.4, fontweight='bold', color=col, ha='center', va='center', family=[DOC, 'DejaVu Sans'])
for k, body in enumerate(table_body):
    cx = (table_edges[k] + table_edges[k + 1]) / 2 + 1
    ha = 'center'
    if k == len(table_body) - 1:
        cx, ha = table_edges[k + 1] - 4, 'right'
    for y, s in zip([1074, 1109], body):
        bg.text(cx, y, s, fontsize=18.2, color='#000000', ha=ha, va='center', family=[DOC, 'DejaVu Sans'])

# spell-check squiggles
for x0, x1, y in [(282, 323, 1015), (366, 407, 1015), (450, 491, 1015), (942, 1010, 1015), (1026, 1094, 1015),
                  (971, 981, 1045), (1055, 1065, 1045)]:
    xs = np.arange(x0, x1 + 1, 2)
    ys = y + np.where(np.arange(len(xs)) % 2 == 0, 1, -1)
    bg.plot(xs, ys, color='#e81818', lw=0.8)

fig.savefig('out.png', dpi=100, facecolor='white')
